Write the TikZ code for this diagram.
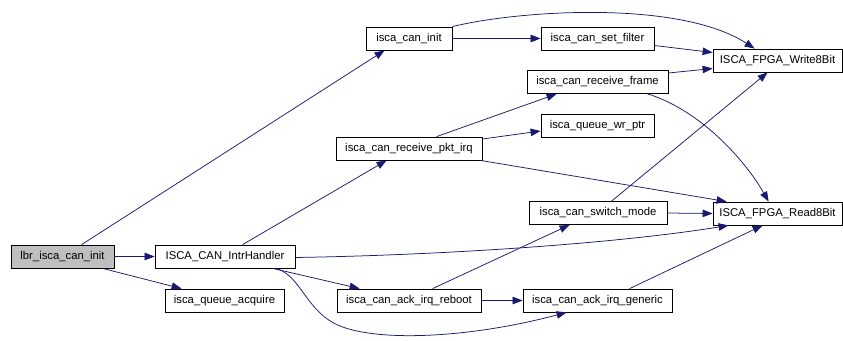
\documentclass[tikz,border=0pt]{standalone}
\usepackage{fontspec}
\setmainfont{Liberation Sans}
\usetikzlibrary{arrows.meta,calc}
\definecolor{edgeblue}{HTML}{191970}
\definecolor{rootgray}{HTML}{BFBFBF}
\begin{document}
\begin{tikzpicture}[x=1pt,y=-1pt,
  fn/.style={draw=black,line width=0.8pt,fill=white,minimum height=23pt,
    inner sep=0pt,font=\fontsize{11.3}{13}\selectfont},
  root/.style={fn,fill=rootgray},
  call/.style={draw=edgeblue,line width=0.75pt,
    -{Triangle[length=10pt,width=7.5pt]}}]
\useasboundingbox (0,0) rectangle (843,340);

% functions
\node[root,minimum width=103pt] (lbr)    at (62.5,256.5) {lbr\_isca\_can\_init};
\node[fn,minimum width=140pt]   (intr)   at (225,256.5)  {ISCA\_CAN\_IntrHandler};
\node[fn,minimum width=119pt]   (qacq)   at (224.5,300.5){isca\_queue\_acquire};
\node[fn,minimum width=86pt]    (init)   at (409,38.5)   {isca\_can\_init};
\node[fn,minimum width=113pt]   (setf)   at (597.5,38.5) {isca\_can\_set\_filter};
\node[fn,minimum width=141pt]   (rframe) at (597.5,82)   {isca\_can\_receive\_frame};
\node[fn,minimum width=113pt]   (wrptr)  at (597.5,126)  {isca\_queue\_wr\_ptr};
\node[fn,minimum width=146pt]   (pktirq) at (409,148.5)  {isca\_can\_receive\_pkt\_irq};
\node[fn,minimum width=129pt]   (w8)     at (777.5,60.5) {ISCA\_FPGA\_Write8Bit};
\node[fn,minimum width=129pt]   (r8)     at (777.5,213.5){ISCA\_FPGA\_Read8Bit};
\node[fn,minimum width=138pt]   (sw)     at (598,213)    {isca\_can\_switch\_mode};
\node[fn,minimum width=144pt]   (reboot) at (409,300.5)  {isca\_can\_ack\_irq\_reboot};
\node[fn,minimum width=149pt]   (gen)    at (597.5,300.5){isca\_can\_ack\_irq\_generic};

% calls
\draw[call] ($(lbr.north west)+(71,0)$) -- ($(init.south west)+(19,0)$);
\draw[call] (lbr.east) -- (intr.west);
\draw[call] ($(lbr.south west)+(92,0)$) -- ($(qacq.north west)+(17,0)$);

\draw[call] (init.east) -- (setf.west);
\draw[call] (init.north east) .. controls (520,10) and (680,0) .. ($(w8.north west)+(42,0)$);
\draw[call] ($(setf.east)+(0,7)$) -- ($(w8.west)+(0,-8)$);
\draw[call] ($(rframe.east)+(0,-9)$) -- ($(w8.west)+(0,8)$);
\draw[call] ($(rframe.south west)+(121,0)$) .. controls (700,110) and (745,160) .. ($(r8.north west)+(56,0)$);

\draw[call] ($(pktirq.north west)+(101,0)$) -- ($(rframe.south west)+(30,0)$);
\draw[call] ($(pktirq.east)+(0,-9.5)$) -- ($(wrptr.west)+(0,5)$);
\draw[call] ($(pktirq.south east)+(-2,0)$) -- ($(r8.north west)+(14,0)$);

\draw[call] ($(intr.north west)+(88,0)$) -- ($(pktirq.south west)+(51,0)$);
\draw[call] ($(intr.east)+(0,1)$) .. controls (450,255) and (620,243) .. ($(r8.south west)+(16,0)$);
\draw[call] ($(intr.south west)+(118,0)$) -- ($(reboot.north west)+(23,0)$);
\draw[call] ($(intr.south west)+(122,0)$) .. controls (302,277) and (306,312) .. (340,326)
  .. controls (380,342) and (470,338) .. ($(gen.south west)+(44,0)$);

\draw[call] ($(reboot.north west)+(96,0)$) -- ($(sw.south west)+(41,0)$);
\draw[call] (reboot.east) -- (gen.west);
\draw[call] (sw.east) -- (r8.west);
\draw[call] ($(sw.north west)+(83,0)$) -- ($(w8.south west)+(55,0)$);
\draw[call] ($(gen.north west)+(107,0)$) -- ($(r8.south west)+(50,0)$);
\end{tikzpicture}
\end{document}
